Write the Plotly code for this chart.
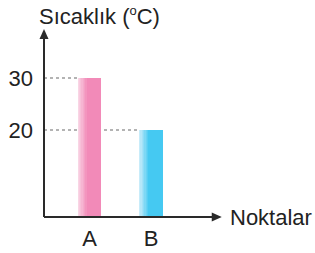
import plotly.graph_objects as go

categories = ["A", "B"]
values = [30, 20]
tick_values = [20, 30]
tick_labels = ["20", "30"]
y_title = "Sıcaklık (<sup><span style='font-size:13px'>o</span></sup>C)"
x_title = "Noktalar"

main_colors = ["#F28AB8", "#45C9F2"]
light_colors = ["#F9D6E5", "#C8ECFA"]

W, H = 315, 253
L, R, T, B = 44, 95, 29, 36
bar_w = 0.375
x_range = [-0.74, 2.12]
y_range = [3.3, 39.4]
font = "Liberation Sans, Arial, sans-serif"
txt = "#222222"
axis_col = "#2a2a2a"
fs = 22

def mix(c1, c2, t):
    a = [int(c1[i:i+2], 16) for i in (1, 3, 5)]
    b = [int(c2[i:i+2], 16) for i in (1, 3, 5)]
    return "#%02x%02x%02x" % tuple(round(a[k] + (b[k] - a[k]) * t) for k in range(3))

xs = list(range(len(categories)))
fig = go.Figure()

shapes = []
for i, v in enumerate(values):
    shapes.append(dict(type="line", layer="below", x0=x_range[0], x1=xs[i] - bar_w / 2,
                       y0=v, y1=v, xref="x", yref="y",
                       line=dict(color="#9a9a9a", width=1.5, dash="dot")))
# axis lines
shapes.append(dict(type="line", xref="paper", yref="paper", x0=0, x1=0, y0=0, y1=0.97,
                   line=dict(color=axis_col, width=2)))
shapes.append(dict(type="line", xref="paper", yref="paper", x0=0, x1=0.97, y0=0, y1=0,
                   line=dict(color=axis_col, width=2)))
# arrowheads (pixel-sized, anchored at axis ends)
shapes.append(dict(type="path", xref="paper", yref="paper", xsizemode="pixel", ysizemode="pixel",
                   xanchor=0, yanchor=1, path="M-4.5,-10 L0,0 L4.5,-10 Z",
                   fillcolor=axis_col, line=dict(width=0)))
shapes.append(dict(type="path", xref="paper", yref="paper", xsizemode="pixel", ysizemode="pixel",
                   xanchor=1.01, yanchor=0, path="M-10,-4.5 L0,0 L-10,4.5 Z",
                   fillcolor=axis_col, line=dict(width=0)))

fig.add_trace(go.Bar(x=xs, y=values, width=bar_w, marker=dict(color=main_colors, line=dict(width=0)),
                     showlegend=False, hoverinfo="skip"))
n = 8
frac = 0.45
for k in range(n):
    t = k / (n - 1)
    cols = [mix(light_colors[i], main_colors[i], t) for i in range(len(values))]
    sw = bar_w * frac / n
    fig.add_trace(go.Bar(x=xs, y=values, width=[sw * 1.05] * len(xs),
                         offset=[-bar_w / 2 + k * sw] * len(xs),
                         marker=dict(color=cols, line=dict(width=0)),
                         showlegend=False, hoverinfo="skip"))

annotations = [
    dict(x=0, y=1, xref="paper", yref="paper", xanchor="left", yanchor="middle",
         xshift=-7, yshift=13, text=y_title, showarrow=False,
         font=dict(family=font, size=fs, color=txt)),
    dict(x=1, y=0, xref="paper", yref="paper", xanchor="left", yanchor="middle",
         xshift=8, yshift=0, text=x_title, showarrow=False,
         font=dict(family=font, size=fs, color=txt)),
]

fig.update_layout(
    width=W, height=H, margin=dict(l=L, r=R, t=T, b=B, pad=0, autoexpand=False),
    paper_bgcolor="white", plot_bgcolor="white",
    barmode="overlay", bargap=0,
    shapes=shapes, annotations=annotations,
    xaxis=dict(range=x_range, tickvals=xs, ticktext=categories, showgrid=False, zeroline=False,
               showline=False, ticks="", ticklabelstandoff=6, automargin=False,
               tickfont=dict(family=font, size=fs, color=txt)),
    yaxis=dict(range=y_range, tickvals=tick_values, ticktext=tick_labels, showgrid=False,
               zeroline=False, showline=False, ticks="", ticklabelstandoff=10, automargin=False,
               tickfont=dict(family=font, size=fs, color=txt)),
    font=dict(family=font, color=txt),
)

fig.write_html("out.html", config={"displayModeBar": False},
               post_script="document.body.style.margin='0';document.body.style.overflow='hidden';")
